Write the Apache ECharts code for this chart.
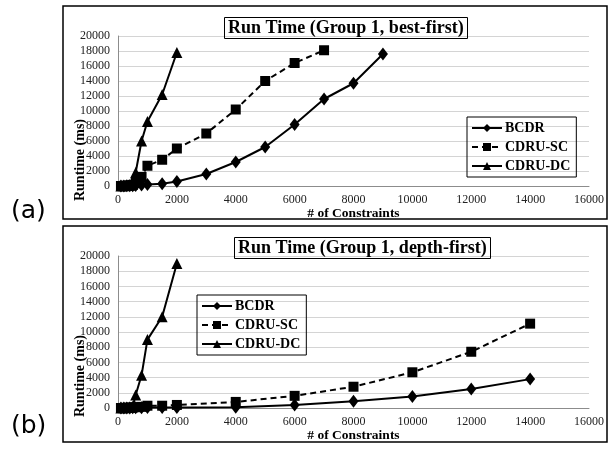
<!DOCTYPE html>
<html>
<head>
<meta charset="utf-8">
<script src="https://cdn.jsdelivr.net/npm/echarts@6/dist/echarts.min.js"></script>
<style>
  html, body { margin: 0; padding: 0; background: #fff; }
  #chart { width: 613px; height: 450px; }
</style>
</head>
<body>
<div id="chart"></div>
<script>
// (a) best-first
const bestBcdrX = [100, 200, 300, 400, 500, 600, 800, 1000, 1500, 2000, 3000, 4000, 5000, 6000, 7000, 8000, 9000];
const bestBcdrY = [0, 10, 20, 30, 50, 80, 150, 200, 300, 600, 1600, 3200, 5200, 8200, 11600, 13700, 17600];
const bestScX = [100, 200, 300, 400, 500, 600, 800, 1000, 1500, 2000, 3000, 4000, 5000, 6000, 7000];
const bestScY = [0, 20, 40, 80, 150, 400, 1200, 2700, 3500, 5000, 7000, 10200, 14000, 16400, 18100];
const bestDcX = [100, 200, 300, 400, 500, 600, 800, 1000, 1500, 2000];
const bestDcY = [0, 30, 60, 120, 300, 1800, 6000, 8600, 12200, 17800];

// (b) depth-first
const depthBcdrX = [100, 200, 300, 400, 500, 600, 800, 1000, 1500, 2000, 4000, 6000, 8000, 10000, 12000, 14000];
const depthBcdrY = [0, 5, 10, 15, 20, 30, 40, 50, 60, 60, 100, 400, 900, 1500, 2500, 3800];
const depthScX = [100, 200, 300, 400, 500, 600, 800, 1000, 1500, 2000, 4000, 6000, 8000, 10000, 12000, 14000];
const depthScY = [0, 10, 20, 40, 60, 100, 150, 300, 300, 400, 800, 1600, 2800, 4700, 7400, 11100];
const depthDcX = [100, 200, 300, 400, 500, 600, 800, 1000, 1500, 2000];
const depthDcY = [0, 20, 50, 100, 200, 1700, 4300, 9000, 12000, 19000];

const seriesNames = ['BCDR', 'CDRU-SC', 'CDRU-DC'];
const titles = ['Run Time (Group 1, best-first)', 'Run Time (Group 1, depth-first)'];

const serif = 'Liberation Serif';

function pairs(xs, ys) {
  return xs.map((x, i) => [x, ys[i]]);
}

function makeSeries(name, idx, xs, ys) {
  const styles = {
    'BCDR': { symbol: 'diamond', symbolSize: [10, 13], type: 'solid' },
    'CDRU-SC': { symbol: 'rect', symbolSize: 10, type: [6, 4] },
    'CDRU-DC': { symbol: 'triangle', symbolSize: 11, type: 'solid' }
  };
  const s = styles[name];
  return {
    name: name,
    type: 'line',
    xAxisIndex: idx,
    yAxisIndex: idx,
    data: pairs(xs, ys),
    symbol: s.symbol,
    symbolSize: s.symbolSize,
    showAllSymbol: true,
    itemStyle: { color: '#000' },
    lineStyle: { color: '#000', width: 2, type: s.type },
    animation: false
  };
}

function plain(v) {
  return String(v);
}

function xAxisOpt(idx) {
  return {
    type: 'value',
    gridIndex: idx,
    min: 0,
    max: 16000,
    interval: 2000,
    name: '# of Constraints',
    nameLocation: 'middle',
    nameGap: 20,
    nameTextStyle: { fontFamily: serif, fontWeight: 'bold', fontSize: 13.5, color: '#000' },
    axisLine: { show: true, lineStyle: { color: '#8c8c8c', width: 1 } },
    axisTick: { show: false },
    splitLine: { show: false },
    axisLabel: { fontFamily: serif, fontSize: 12, color: '#222', margin: 8, formatter: plain }
  };
}

function yAxisOpt(idx) {
  return {
    type: 'value',
    gridIndex: idx,
    min: 0,
    max: 20000,
    interval: 2000,
    axisLine: { show: true, lineStyle: { color: '#8c8c8c', width: 1 } },
    axisTick: { show: false },
    splitLine: { show: true, lineStyle: { color: '#d4d4d4', width: 1 } },
    axisLabel: { fontFamily: serif, fontSize: 12, color: '#222', margin: 8, formatter: plain }
  };
}

function legendOpt(left, top) {
  return {
    left: left,
    top: top,
    orient: 'vertical',
    data: seriesNames,
    borderColor: '#000',
    borderWidth: 1,
    borderRadius: 0,
    padding: [4, 6, 4, 4],
    itemGap: 5,
    itemWidth: 30,
    itemHeight: 10,
    selectedMode: false,
    textStyle: { fontFamily: serif, fontWeight: 'bold', fontSize: 14, color: '#000', padding: [0, 0, 0, -2] }
  };
}

function titleOpt(text, left, top) {
  return {
    text: text,
    left: left,
    top: top,
    padding: [2, 4],
    borderColor: '#000',
    borderWidth: 1,
    textStyle: { fontFamily: serif, fontWeight: 'bold', fontSize: 18, color: '#000' }
  };
}

const option = {
  backgroundColor: '#fff',
  animation: false,
  title: [
    titleOpt(titles[0], 224, 17),
    titleOpt(titles[1], 234, 237)
  ],
  legend: [
    legendOpt(467, 117),
    legendOpt(197, 295)
  ],
  grid: [
    { left: 118, right: 24, top: 36, bottom: 264 },
    { left: 118, right: 24, top: 256, bottom: 42 }
  ],
  xAxis: [xAxisOpt(0), xAxisOpt(1)],
  yAxis: [yAxisOpt(0), yAxisOpt(1)],
  graphic: [
    { type: 'rect', shape: { x: 63, y: 6, width: 544, height: 213 }, style: { fill: 'none', stroke: '#000', lineWidth: 1.5 }, silent: true },
    { type: 'rect', shape: { x: 63, y: 226, width: 544, height: 216 }, style: { fill: 'none', stroke: '#000', lineWidth: 1.5 }, silent: true },
    { type: 'text', x: 11, y: 211, style: { text: '(a)', fontFamily: 'DejaVu Sans', fontSize: 25, fill: '#000', verticalAlign: 'middle' } },
    { type: 'text', x: 11, y: 426, style: { text: '(b)', fontFamily: 'DejaVu Sans', fontSize: 25, fill: '#000', verticalAlign: 'middle' } },
    { type: 'text', x: 80, y: 160, rotation: Math.PI / 2, style: { text: 'Runtime (ms)', fontFamily: serif, fontWeight: 'bold', fontSize: 14, fill: '#000', align: 'center', verticalAlign: 'middle' } },
    { type: 'text', x: 80, y: 376, rotation: Math.PI / 2, style: { text: 'Runtime (ms)', fontFamily: serif, fontWeight: 'bold', fontSize: 14, fill: '#000', align: 'center', verticalAlign: 'middle' } }
  ],
  series: [
    makeSeries('BCDR', 0, bestBcdrX, bestBcdrY),
    makeSeries('CDRU-SC', 0, bestScX, bestScY),
    makeSeries('CDRU-DC', 0, bestDcX, bestDcY),
    makeSeries('BCDR', 1, depthBcdrX, depthBcdrY),
    makeSeries('CDRU-SC', 1, depthScX, depthScY),
    makeSeries('CDRU-DC', 1, depthDcX, depthDcY)
  ]
};

const myChart = echarts.init(document.getElementById('chart'));
myChart.setOption(option);
</script>
</body>
</html>
